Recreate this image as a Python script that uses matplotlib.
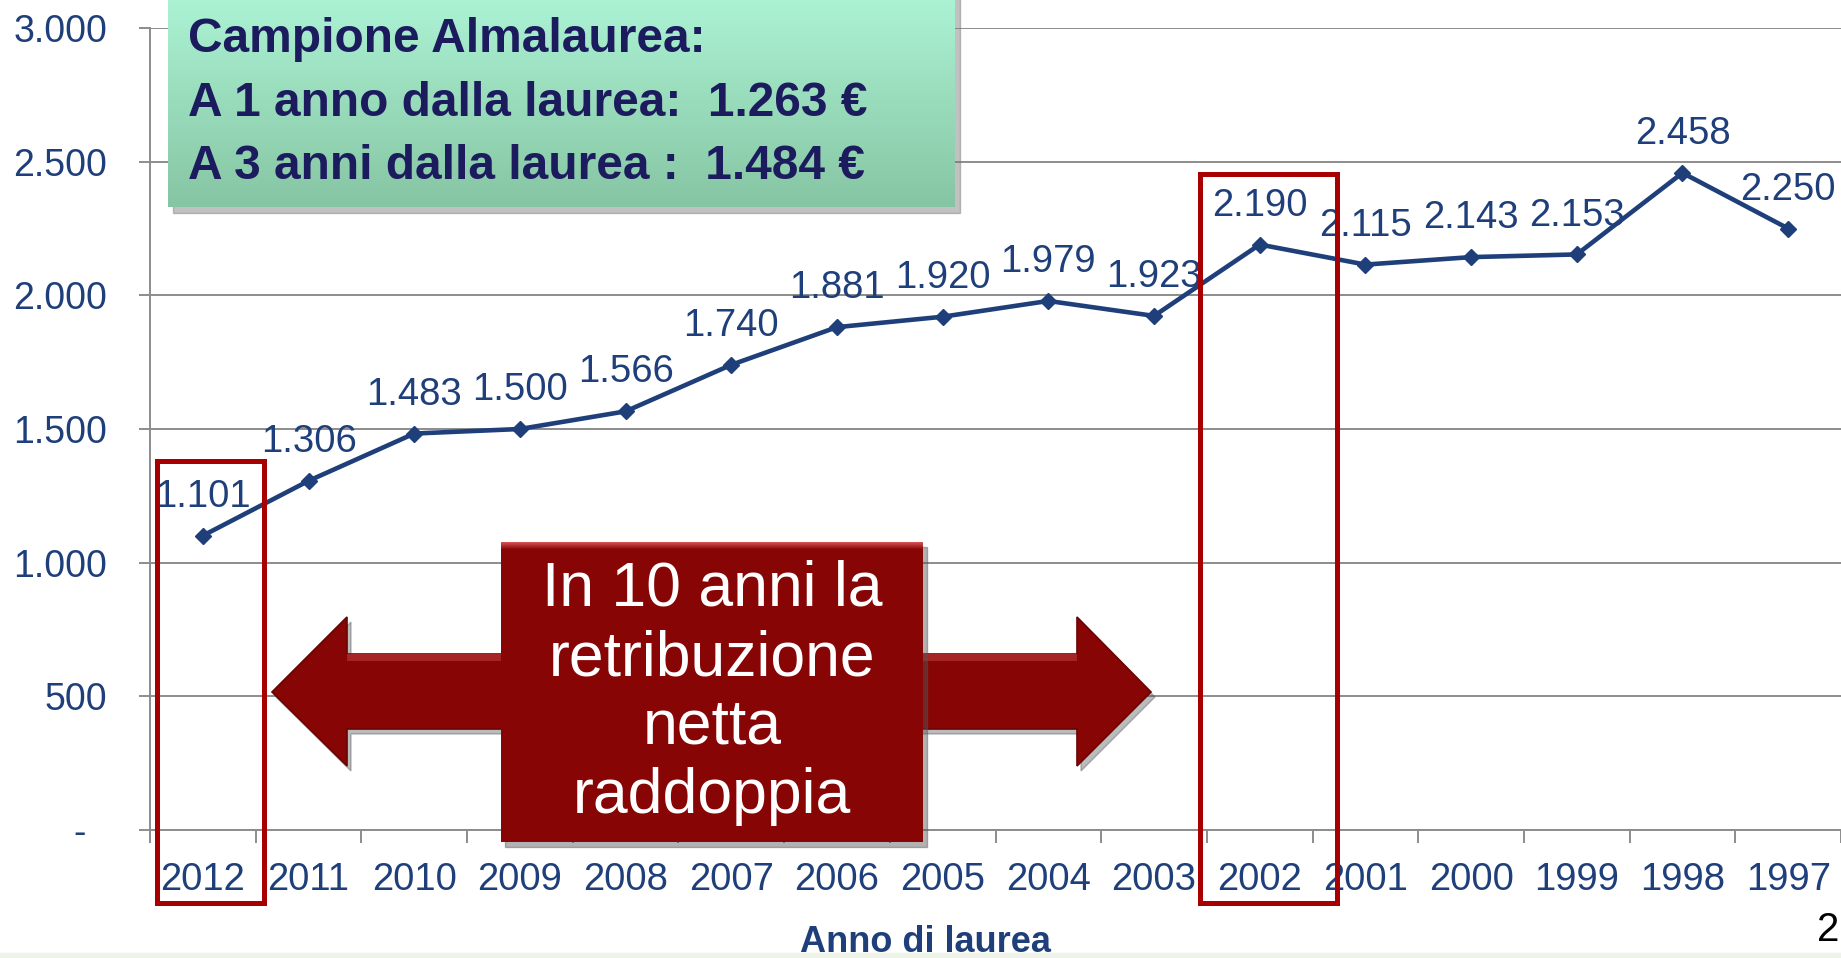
import numpy as np
import matplotlib
matplotlib.use('Agg')
from matplotlib import pyplot as plt
from matplotlib.patches import Rectangle, Polygon
from matplotlib.colors import LinearSegmentedColormap

plt.rcParams['font.family'] = ['Liberation Sans', 'DejaVu Sans']

# data
years = ['2012', '2011', '2010', '2009', '2008', '2007', '2006', '2005',
         '2004', '2003', '2002', '2001', '2000', '1999', '1998', '1997']
salary = [1101, 1306, 1483, 1500, 1566, 1740, 1881, 1920,
          1979, 1923, 2190, 2115, 2143, 2153, 2458, 2250]
y_ticks = [0, 500, 1000, 1500, 2000, 2500, 3000]
y_tick_labels = ['-  ', '500', '1.000', '1.500', '2.000', '2.500', '3.000']

box_lines = ['Campione Almalaurea:',
             'A 1 anno dalla laurea:  1.263 €',
             'A 3 anni dalla laurea :  1.484 €']
arrow_lines = ['In 10 anni la', 'retribuzione', 'netta', 'raddoppia']
x_title = 'Anno di laurea'
slide_no = '2'

W, H = 1841, 958
LINE_COLOR = '#1F3F7A'
GRID_COLOR = '#8C8C8C'
RED_FILL = '#870505'
RED_EDGE = '#A80000'
BOX_TEXT = '#1B1B5E'


def fx(px):
    return px / W


def fy(py):
    # pixel rows are counted from the top
    return 1 - py / H


def it_fmt(v):
    return f'{v:,}'.replace(',', '.')


fig = plt.figure(figsize=(W / 100, H / 100), dpi=100)

ax = fig.add_axes([fx(150), fy(830), fx(W) - fx(150), fy(28) - fy(830)])
x = np.arange(len(years))
ax.plot(x, salary, color=LINE_COLOR, lw=3.3, marker='D', ms=8, zorder=3)

for i, v in enumerate(salary):
    ax.annotate(it_fmt(v), (i, v), xytext=(0, 28), textcoords='offset points',
                ha='center', va='center', fontsize=27.5, color=LINE_COLOR)

ax.set_xlim(-0.5, len(years) - 0.5)
ax.set_ylim(0, 3000)
ax.set_yticks(y_ticks)
ax.set_yticklabels(y_tick_labels)
ax.set_xticks(x)
ax.set_xticklabels(years)
ax.set_xticks(np.arange(len(years) + 1) - 0.5, minor=True)
ax.tick_params(axis='x', which='major', length=0, pad=23, labelsize=27.5, labelcolor=LINE_COLOR)
ax.tick_params(axis='x', which='minor', length=9, width=1.4, color=GRID_COLOR)
ax.tick_params(axis='y', length=8, width=1.4, color=GRID_COLOR, pad=23,
               labelsize=27, labelcolor=LINE_COLOR)
ax.grid(axis='y', color=GRID_COLOR, lw=1.4)
ax.set_axisbelow(True)
for s in ['top', 'right']:
    ax.spines[s].set_visible(False)
for s in ['left', 'bottom']:
    ax.spines[s].set_color(GRID_COLOR)
    ax.spines[s].set_linewidth(1.4)

fig.text(fx(925), fy(943), x_title, ha='center', va='center', fontsize=26,
         fontweight='bold', color=LINE_COLOR)
fig.text(fx(1817), fy(930), slide_no, ha='left', va='center', fontsize=29, color='black')
fig.add_artist(Rectangle((0, 0), 1, fy(953), transform=fig.transFigure,
                         color='#EEF4E8', zorder=1))

# green info box with a vertical gradient and a drop shadow
fig.add_artist(Rectangle((fx(173), fy(213)), fx(960) - fx(173), fy(-5) - fy(213),
                         transform=fig.transFigure, color='#777777', alpha=0.45, zorder=4))
gax = fig.add_axes([fx(168), fy(207), fx(955) - fx(168), fy(-5) - fy(207)], zorder=5)
grad = np.linspace(0, 1, 256).reshape(-1, 1)
gax.imshow(grad, aspect='auto', extent=[0, 1, 0, 1], origin='upper',
           cmap=LinearSegmentedColormap.from_list('box', ['#ACF3D5', '#86C5A3']))
gax.axis('off')
for k, line in enumerate(box_lines):
    fig.text(fx(188), fy(39 + 64 * k), line, ha='left', va='center', fontsize=34.5,
             fontweight='bold', color=BOX_TEXT, zorder=6)

# double arrow behind the red box
arrow = [(272, 692), (347, 617), (347, 654), (1077, 654), (1077, 617), (1151, 692),
         (1077, 766), (1077, 729), (347, 729), (347, 766)]
shadow = Polygon([(fx(px + 4), fy(py + 5)) for px, py in arrow], closed=True,
                 transform=fig.transFigure, color='#555555', alpha=0.4, zorder=6)
fig.add_artist(shadow)
fig.add_artist(Polygon([(fx(px), fy(py)) for px, py in arrow], closed=True,
                       transform=fig.transFigure, facecolor=RED_FILL, edgecolor='#6A0404',
                       lw=1.2, zorder=6.5))
# lighter bevel on the top of the shaft
for x0, x1 in [(347, 501), (923, 1077)]:
    fig.add_artist(Rectangle((fx(x0), fy(661)), fx(x1) - fx(x0), fy(654) - fy(661),
                             transform=fig.transFigure, color='#A52424', lw=0, zorder=6.55))

# red box with a lighter top bevel
fig.add_artist(Rectangle((fx(505), fy(847)), fx(927) - fx(505), fy(547) - fy(847),
                         transform=fig.transFigure, color='#555555', alpha=0.45, zorder=6.6))
rax = fig.add_axes([fx(501), fy(842), fx(923) - fx(501), fy(542) - fy(842)], zorder=7)
rgrad = np.concatenate([np.linspace(0, 1, 8), np.ones(292)]).reshape(-1, 1)
rax.imshow(rgrad, aspect='auto', extent=[0, 1, 0, 1], origin='upper',
           cmap=LinearSegmentedColormap.from_list('redbox', ['#D05050', RED_FILL]))
rax.axis('off')
for k, line in enumerate(arrow_lines):
    fig.text(fx(712), fy(606 + 69 * k), line, ha='center', va='baseline', fontsize=45,
             color='white', zorder=8)

# red frames around 2012 and 2002
for x0, x1, y0 in [(157, 264, 461), (1200, 1337, 174)]:
    fig.add_artist(Rectangle((fx(x0), fy(903)), fx(x1) - fx(x0), fy(y0) - fy(903),
                             transform=fig.transFigure, fill=False, edgecolor=RED_EDGE,
                             lw=3.6, zorder=9))

fig.savefig('out.png', dpi=100)
